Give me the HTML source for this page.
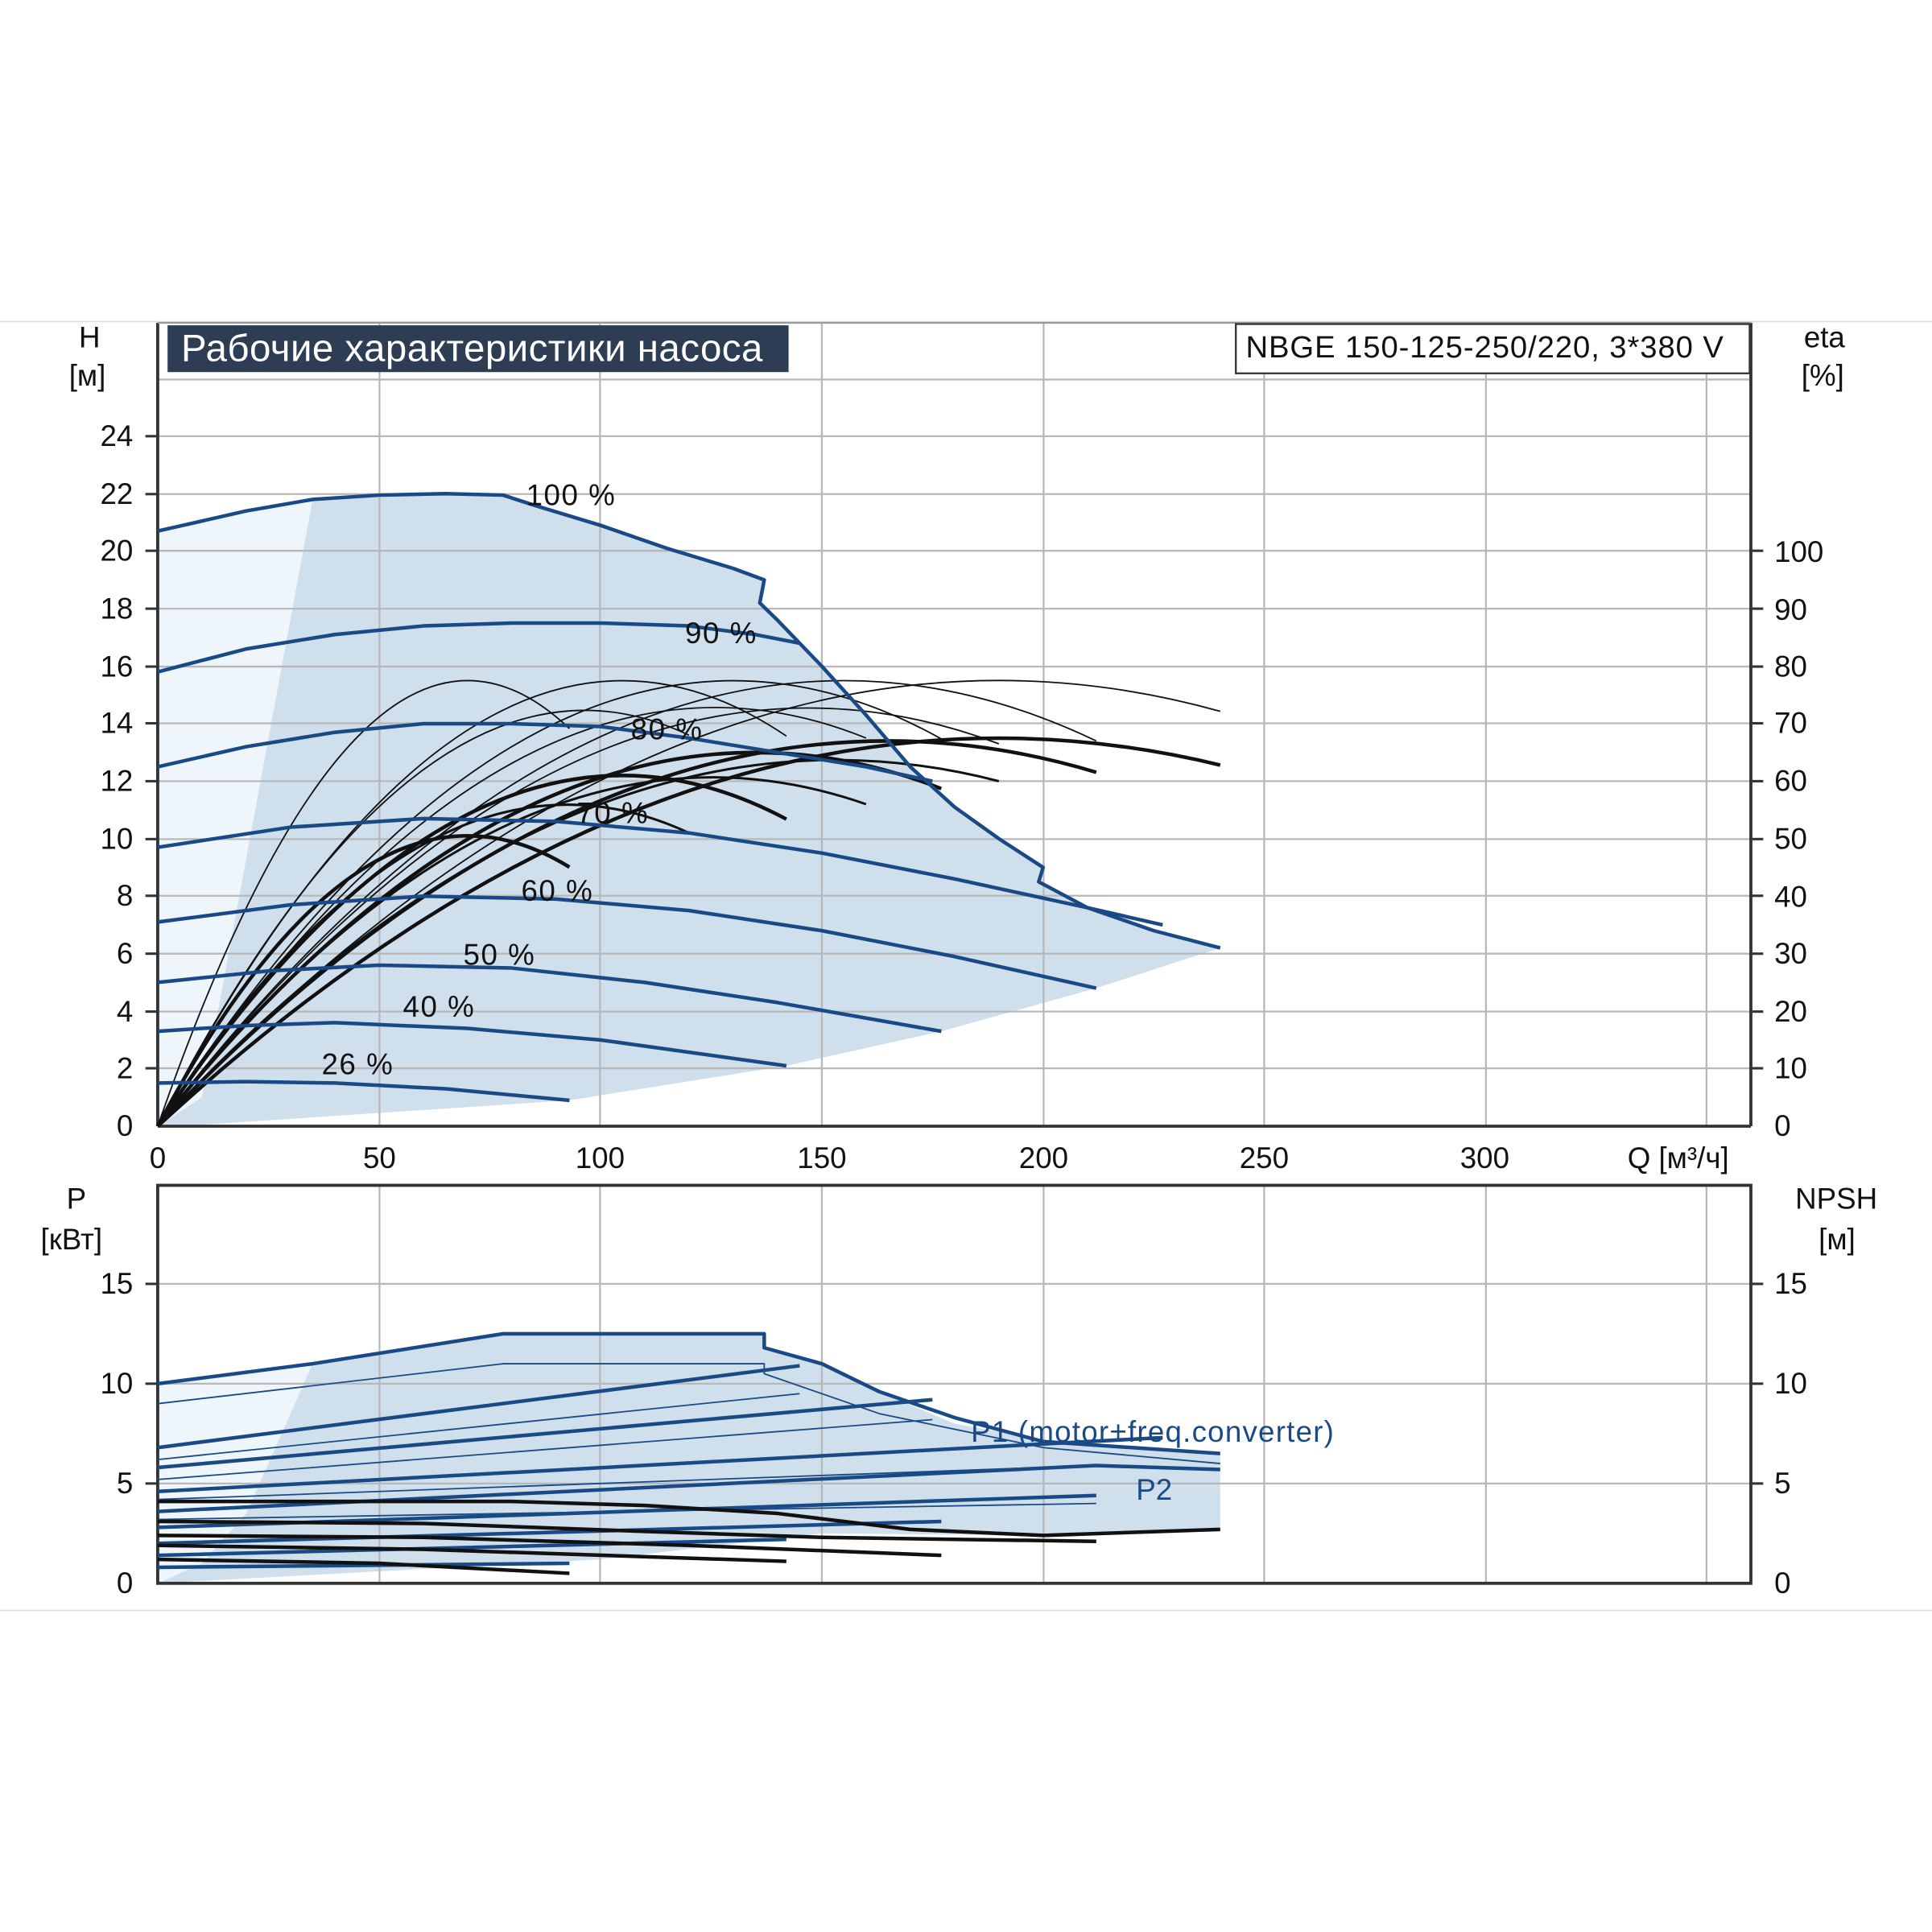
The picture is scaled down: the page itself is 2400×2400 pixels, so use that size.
<!DOCTYPE html>
<html><head><meta charset="utf-8"><style>html,body{margin:0;padding:0;background:#fff}svg{display:block}</style></head>
<body>
<svg width="2400" height="2400" viewBox="0 0 1568 1568" xmlns="http://www.w3.org/2000/svg" font-family="Liberation Sans, DejaVu Sans, sans-serif">
<rect width="1568" height="1568" fill="#fff"/>
<line x1="0" y1="261" x2="1568" y2="261" stroke="#ddd" stroke-width="1"/>
<line x1="0" y1="1307" x2="1568" y2="1307" stroke="#ddd" stroke-width="1"/>

<g transform="translate(128,914) scale(3.593,-23.333)">
<polygon fill="#d0dfec" points="0,20.7 20,21.4 35,21.8 50,21.95 65,22 78,21.95 85,21.6 100,20.9 115,20.1 130,19.4 137,19 136,18.2 140,17.6 150,16 160,14.3 170,12.5 180,11.1 190,10 200,9 199,8.5 210,7.6 225,6.8 240,6.2 212,4.8 177,3.3 142,2.1 93,0.9 5,0 0,0"/>
<polygon fill="#eef6fc" points="0,20.7 20,21.4 35,21.8 10,1 0,0"/>
</g>
<g stroke="#b8b8b8" stroke-width="1.5">
<line x1="128" y1="308" x2="1421" y2="308"/>
<line x1="128" y1="354" x2="1421" y2="354"/><line x1="128" y1="401" x2="1421" y2="401"/>
<line x1="128" y1="447" x2="1421" y2="447"/><line x1="128" y1="494" x2="1421" y2="494"/>
<line x1="128" y1="541" x2="1421" y2="541"/><line x1="128" y1="587" x2="1421" y2="587"/>
<line x1="128" y1="634" x2="1421" y2="634"/><line x1="128" y1="681" x2="1421" y2="681"/>
<line x1="128" y1="727" x2="1421" y2="727"/><line x1="128" y1="774" x2="1421" y2="774"/>
<line x1="128" y1="821" x2="1421" y2="821"/><line x1="128" y1="867" x2="1421" y2="867"/>
<line x1="308" y1="262" x2="308" y2="914"/><line x1="487" y1="262" x2="487" y2="914"/>
<line x1="667" y1="262" x2="667" y2="914"/><line x1="847" y1="262" x2="847" y2="914"/>
<line x1="1026" y1="262" x2="1026" y2="914"/><line x1="1206" y1="262" x2="1206" y2="914"/>
<line x1="1385" y1="262" x2="1385" y2="914"/>
</g>
<g stroke="#333" stroke-width="2.5" fill="none">
<line x1="128" y1="262" x2="128" y2="914"/><line x1="1421" y1="262" x2="1421" y2="914"/>
<line x1="128" y1="914" x2="1421" y2="914"/><line x1="128" y1="262" x2="1421" y2="262" stroke="#999" stroke-width="1.5"/>
</g>
<g stroke="#333" stroke-width="2">
<line x1="118" y1="354" x2="128" y2="354"/><line x1="118" y1="401" x2="128" y2="401"/><line x1="118" y1="447" x2="128" y2="447"/><line x1="118" y1="494" x2="128" y2="494"/><line x1="118" y1="541" x2="128" y2="541"/><line x1="118" y1="587" x2="128" y2="587"/><line x1="118" y1="634" x2="128" y2="634"/><line x1="118" y1="681" x2="128" y2="681"/><line x1="118" y1="727" x2="128" y2="727"/><line x1="118" y1="774" x2="128" y2="774"/><line x1="118" y1="821" x2="128" y2="821"/><line x1="118" y1="867" x2="128" y2="867"/>
<line x1="1421" y1="447" x2="1431" y2="447"/><line x1="1421" y1="494" x2="1431" y2="494"/><line x1="1421" y1="541" x2="1431" y2="541"/><line x1="1421" y1="587" x2="1431" y2="587"/><line x1="1421" y1="634" x2="1431" y2="634"/><line x1="1421" y1="681" x2="1431" y2="681"/><line x1="1421" y1="727" x2="1431" y2="727"/><line x1="1421" y1="774" x2="1431" y2="774"/><line x1="1421" y1="821" x2="1431" y2="821"/><line x1="1421" y1="867" x2="1431" y2="867"/>
</g>

<g transform="translate(128,914) scale(3.593,-23.333)" fill="none" stroke="#111">
<path vector-effect="non-scaling-stroke" stroke-width="1.8" d="M0,0 Q46.5,20.59 93,13.83"/>
<path vector-effect="non-scaling-stroke" stroke-width="1.8" d="M0,0 Q71,20.96 142,13.57"/>
<path vector-effect="non-scaling-stroke" stroke-width="1.8" d="M0,0 Q88.5,21.1 177,13.47"/>
<path vector-effect="non-scaling-stroke" stroke-width="1.8" d="M0,0 Q106,21.2 212,13.4"/>
<path vector-effect="non-scaling-stroke" stroke-width="1.8" d="M0,0 Q120,19.58 240,14.43"/>
<path vector-effect="non-scaling-stroke" stroke-width="1.8" d="M0,0 Q60,18 120,13.6"/>
<path vector-effect="non-scaling-stroke" stroke-width="1.8" d="M0,0 Q80,18.5 160,13.5"/>
<path vector-effect="non-scaling-stroke" stroke-width="1.8" d="M0,0 Q95,18.8 190,13.3"/>
<path vector-effect="non-scaling-stroke" stroke-width="4.5" d="M0,0 Q46.5,13.42 93,9.01"/>
<path vector-effect="non-scaling-stroke" stroke-width="4.5" d="M0,0 Q71,16.5 142,10.68"/>
<path vector-effect="non-scaling-stroke" stroke-width="4.5" d="M0,0 Q88.5,17.04 177,11.74"/>
<path vector-effect="non-scaling-stroke" stroke-width="4.5" d="M0,0 Q106,17.22 212,12.31"/>
<path vector-effect="non-scaling-stroke" stroke-width="4.5" d="M0,0 Q120,17.05 240,12.56"/>
<path vector-effect="non-scaling-stroke" stroke-width="3" d="M0,0 Q60,14.5 120,10.2"/>
<path vector-effect="non-scaling-stroke" stroke-width="3" d="M0,0 Q80,15.5 160,11.2"/>
<path vector-effect="non-scaling-stroke" stroke-width="3" d="M0,0 Q95,15.8 190,12"/>
</g>

<g transform="translate(128,914) scale(3.593,-23.333)" fill="none" stroke="#1a4a85" stroke-linejoin="round">
<polyline vector-effect="non-scaling-stroke" stroke-width="4.5" points="0,20.7 20,21.4 35,21.8 50,21.95 65,22 78,21.95 85,21.6 100,20.9 115,20.1 130,19.4 137,19 136,18.2 140,17.6 150,16 160,14.3 170,12.5 180,11.1 190,10 200,9 199,8.5 210,7.6 225,6.8 240,6.2"/>
<polyline vector-effect="non-scaling-stroke" stroke-width="4.5" points="0,15.8 20,16.6 40,17.1 60,17.4 80,17.5 100,17.5 120,17.4 135,17.1 145,16.8"/>
<polyline vector-effect="non-scaling-stroke" stroke-width="4.5" points="0,12.5 20,13.2 40,13.7 60,14 80,14 100,13.9 120,13.5 140,13 160,12.5 175,12"/>
<polyline vector-effect="non-scaling-stroke" stroke-width="4.5" points="0,9.7 30,10.4 60,10.7 90,10.6 120,10.2 150,9.5 180,8.6 210,7.6 227,7"/>
<polyline vector-effect="non-scaling-stroke" stroke-width="4.5" points="0,7.1 30,7.7 60,8 90,7.9 120,7.5 150,6.8 180,5.9 212,4.8"/>
<polyline vector-effect="non-scaling-stroke" stroke-width="4.5" points="0,5 25,5.4 50,5.6 80,5.5 110,5 140,4.3 177,3.3"/>
<polyline vector-effect="non-scaling-stroke" stroke-width="4.5" points="0,3.3 20,3.5 40,3.6 70,3.4 100,3 142,2.1"/>
<polyline vector-effect="non-scaling-stroke" stroke-width="4.5" points="0,1.5 20,1.55 40,1.5 65,1.3 93,0.9"/>
</g>
<g font-size="24" fill="#111" letter-spacing="1">
<text x="427" y="410">100 %</text><text x="556" y="522">90 %</text><text x="512" y="600">80 %</text>
<text x="468" y="668">70 %</text><text x="423" y="731">60 %</text><text x="376" y="783">50 %</text>
<text x="327" y="825">40 %</text><text x="261" y="872">26 %</text>
</g>

<rect x="136" y="264" width="504" height="38" fill="#2d3e54"/>
<text x="147" y="293" font-size="31" fill="#fff" letter-spacing="0.3">Рабочие характеристики насоса</text>
<rect x="1003" y="263" width="417" height="40" fill="#fff" stroke="#333" stroke-width="1.5"/>
<text x="1011" y="290" font-size="25" fill="#111" letter-spacing="0.6">NBGE 150-125-250/220, 3*380 V</text>

<g font-size="24" fill="#111" text-anchor="end">
<text x="108" y="362">24</text><text x="108" y="409">22</text><text x="108" y="455">20</text><text x="108" y="502">18</text><text x="108" y="549">16</text><text x="108" y="595">14</text><text x="108" y="642">12</text><text x="108" y="689">10</text><text x="108" y="735">8</text><text x="108" y="782">6</text><text x="108" y="829">4</text><text x="108" y="875">2</text><text x="108" y="922">0</text>
</g>
<g font-size="24" fill="#111">
<text x="1440" y="456">100</text><text x="1440" y="503">90</text><text x="1440" y="549">80</text><text x="1440" y="595">70</text><text x="1440" y="642">60</text><text x="1440" y="689">50</text><text x="1440" y="736">40</text><text x="1440" y="782">30</text><text x="1440" y="829">20</text><text x="1440" y="875">10</text><text x="1440" y="922">0</text>
<text x="64" y="282">H</text><text x="56" y="313">[м]</text>
<text x="1464" y="282">eta</text><text x="1462" y="313">[%]</text>
</g>
<g font-size="24" fill="#111" text-anchor="middle">
<text x="128" y="948">0</text><text x="308" y="948">50</text><text x="487" y="948">100</text><text x="667" y="948">150</text><text x="847" y="948">200</text><text x="1026" y="948">250</text><text x="1205" y="948">300</text><text x="1362" y="948">Q [м³/ч]</text>
</g>

<g transform="translate(128,1285) scale(3.593,-16.2)">
<polygon fill="#d0dfec" points="0,10 35,11 78,12.5 137,12.5 137,11.8 150,11 163,9.6 180,8 200,7.2 240,6.5 240,2.7 200,2.4 150,2.5 100,1.2 0,0"/>
<polygon fill="#eef6fc" points="0,10 35,11 20,3.5 10,1 0,0"/>
</g>
<g stroke="#b8b8b8" stroke-width="1.5">
<line x1="128" y1="1042" x2="1421" y2="1042"/><line x1="128" y1="1123" x2="1421" y2="1123"/><line x1="128" y1="1204" x2="1421" y2="1204"/>
<line x1="308" y1="962" x2="308" y2="1285"/><line x1="487" y1="962" x2="487" y2="1285"/><line x1="667" y1="962" x2="667" y2="1285"/><line x1="847" y1="962" x2="847" y2="1285"/><line x1="1026" y1="962" x2="1026" y2="1285"/><line x1="1206" y1="962" x2="1206" y2="1285"/><line x1="1385" y1="962" x2="1385" y2="1285"/>
</g>
<rect x="128" y="962" width="1293" height="323" fill="none" stroke="#333" stroke-width="2.5"/>
<g stroke="#333" stroke-width="2">
<line x1="118" y1="1042" x2="128" y2="1042"/><line x1="118" y1="1123" x2="128" y2="1123"/><line x1="118" y1="1204" x2="128" y2="1204"/>
<line x1="1421" y1="1042" x2="1431" y2="1042"/><line x1="1421" y1="1123" x2="1431" y2="1123"/><line x1="1421" y1="1204" x2="1431" y2="1204"/>
</g>
<g transform="translate(128,1285) scale(3.593,-16.2)" fill="none" stroke-linejoin="round">
<g stroke="#1a4a85">
<polyline vector-effect="non-scaling-stroke" stroke-width="4.5" points="0,10 35,11 78,12.5 137,12.5 137,11.8 150,11 163,9.6 180,8.3 200,7.1 240,6.5"/>
<polyline vector-effect="non-scaling-stroke" stroke-width="4.5" points="0,6.8 145,10.9"/>
<polyline vector-effect="non-scaling-stroke" stroke-width="4.5" points="0,5.8 175,9.2"/>
<polyline vector-effect="non-scaling-stroke" stroke-width="4.5" points="0,4.6 227,7.3"/>
<polyline vector-effect="non-scaling-stroke" stroke-width="4.5" points="0,3.6 212,5.9 240,5.7"/>
<polyline vector-effect="non-scaling-stroke" stroke-width="4.5" points="0,2.8 212,4.4"/>
<polyline vector-effect="non-scaling-stroke" stroke-width="4.5" points="0,2.0 177,3.1"/>
<polyline vector-effect="non-scaling-stroke" stroke-width="4.5" points="0,1.4 142,2.2"/>
<polyline vector-effect="non-scaling-stroke" stroke-width="4.5" points="0,0.8 93,1.0"/>
<polyline vector-effect="non-scaling-stroke" stroke-width="1.8" points="0,9 78,11 137,11 137,10.5 163,8.5 200,6.8 240,6"/>
<polyline vector-effect="non-scaling-stroke" stroke-width="1.8" points="0,6.2 145,9.5"/>
<polyline vector-effect="non-scaling-stroke" stroke-width="1.8" points="0,5.2 175,8.2"/>
<polyline vector-effect="non-scaling-stroke" stroke-width="1.8" points="0,4.2 212,5.9"/>
<polyline vector-effect="non-scaling-stroke" stroke-width="1.8" points="0,3.2 212,4.0"/>
</g>
<g stroke="#111">
<polyline vector-effect="non-scaling-stroke" stroke-width="4.5" points="0,4.1 40,4.1 80,4.1 110,3.9 140,3.5 170,2.7 200,2.4 240,2.7"/>
<polyline vector-effect="non-scaling-stroke" stroke-width="4.5" points="0,3.1 60,3.0 110,2.6 150,2.3 212,2.1"/>
<polyline vector-effect="non-scaling-stroke" stroke-width="4.5" points="0,2.4 60,2.3 120,1.9 177,1.4"/>
<polyline vector-effect="non-scaling-stroke" stroke-width="4.5" points="0,1.9 60,1.7 142,1.1"/>
<polyline vector-effect="non-scaling-stroke" stroke-width="4.5" points="0,1.2 50,1.0 93,0.5"/>
</g>
</g>
<text x="788" y="1170" font-size="24" fill="#1a4a85" letter-spacing="0.8">P1 (motor+freq.converter)</text>
<text x="922" y="1217" font-size="24" fill="#1a4a85">P2</text>
<g font-size="24" fill="#111" text-anchor="end">
<text x="108" y="1050">15</text><text x="108" y="1131">10</text><text x="108" y="1212">5</text><text x="108" y="1293">0</text>
</g>
<g font-size="24" fill="#111">
<text x="1440" y="1050">15</text><text x="1440" y="1131">10</text><text x="1440" y="1212">5</text><text x="1440" y="1293">0</text>
<text x="54" y="981">P</text><text x="33" y="1014">[кВт]</text>
<text x="1457" y="981">NPSH</text><text x="1476" y="1014">[м]</text>
</g>
</svg>
</body></html>
